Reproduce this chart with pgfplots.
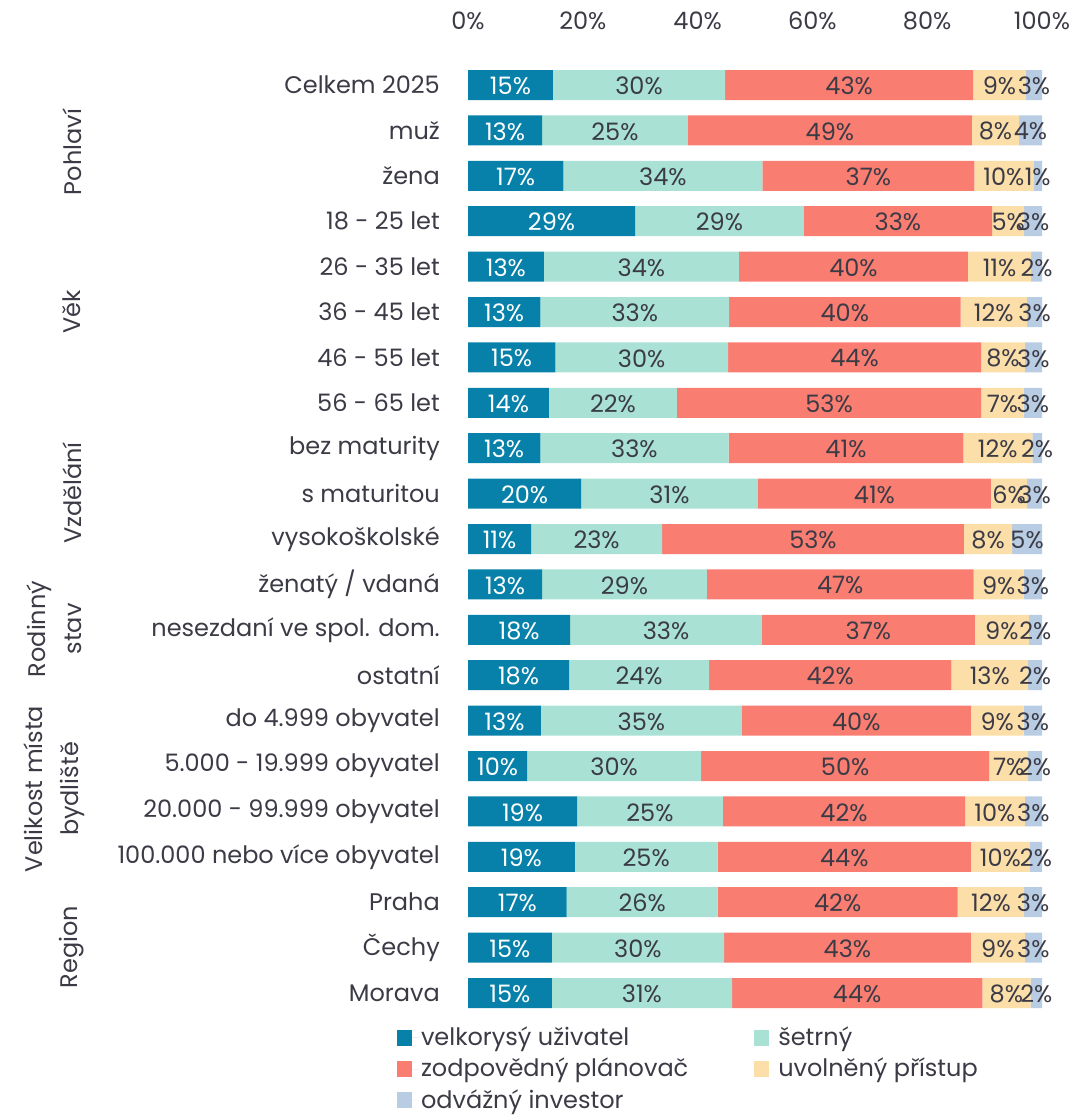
\documentclass[border=0pt]{standalone}
\usepackage{fontspec}
\setmainfont{Poppins}
\usepackage{pgfplots}
\usepackage{pgfplotstable}
\pgfplotsset{compat=1.18}
\definecolor{cA}{HTML}{0781A9}
\definecolor{cB}{HTML}{A9E2D4}
\definecolor{cC}{HTML}{FA7D71}
\definecolor{cD}{HTML}{FCDEA9}
\definecolor{cE}{HTML}{B8CCE3}
\definecolor{txt}{HTML}{3B3B46}
\pgfplotstableread{
y  a    b    c    d    e   la lb lc ld le
0  14.8 30.0 43.2 9.2  2.8 15 30 43 9  3
1  12.9 25.4 49.5 8.2  4.0 13 25 49 8  4
2  16.6 34.7 36.9 10.3 1.5 17 34 37 10 1
3  29.1 29.4 32.8 5.6  3.1 29 29 33 5  3
4  13.2 34.0 39.9 11.0 1.9 13 34 40 11 2
5  12.6 32.9 40.3 11.6 2.6 13 33 40 12 3
6  15.2 30.1 44.1 7.6  3.0 15 30 44 8  3
7  14.1 22.3 53.0 7.4  3.2 14 22 53 7  3
8  12.6 32.8 40.9 12.0 1.7 13 33 41 12 2
9  19.7 30.8 40.6 6.3  2.6 20 31 41 6  3
10 11.0 22.8 52.6 8.4  5.2 11 23 53 8  5
11 12.9 28.7 46.5 8.7  3.2 13 29 47 9  3
12 17.8 33.4 37.1 9.4  2.3 18 33 37 9  2
13 17.6 24.4 42.2 13.4 2.4 18 24 42 13 2
14 12.7 35.0 39.9 9.2  3.2 13 35 40 9  3
15 10.3 30.3 50.2 6.8  2.4 10 30 50 7  2
16 19.0 25.4 42.2 10.4 3.0 19 25 42 10 3
17 18.6 24.9 44.1 10.3 2.1 19 25 44 10 2
18 17.2 26.3 41.8 11.6 3.1 17 26 42 12 3
19 14.6 30.0 43.0 9.4  3.0 15 30 43 9  3
20 14.6 31.4 43.6 8.4  2.0 15 31 44 8  2
}\data
\newcommand{\fs}{\fontsize{24pt}{28pt}\selectfont}
\pgfplotsset{base/.style={
  at={(468pt,-62.3pt)}, anchor=north west,
  scale only axis, width=574pt, height=953.4pt,
  xmin=0, xmax=100, ymin=-0.5, ymax=20.5, enlargelimits=false,
  y dir=reverse, axis line style={draw=none}, tick style={draw=none}}}
\begin{document}
\fs
\begin{tikzpicture}[x=1pt,y=1pt]
\path[use as bounding box] (0,0) rectangle (1089,-1115);
\begin{axis}[base,
  xbar stacked, bar width=30pt,
  xtick={0,20,40,60,80,100},
  xticklabels={0\%,20\%,40\%,60\%,80\%,100\%},
  xticklabel pos=upper,
  xticklabel style={font=\fs, text=txt, yshift=24pt},
  ytick={0,...,20},
  yticklabels={Celkem 2025,muž,žena,18 - 25 let,26 - 35 let,36 - 45 let,46 - 55 let,56 - 65 let,bez maturity,s maturitou,vysokoškolské,ženatý / vdaná,nesezdaní ve spol. dom.,ostatní,do 4.999 obyvatel,5.000 - 19.999 obyvatel,20.000 - 99.999 obyvatel,100.000 nebo více obyvatel,Praha,Čechy,Morava},
  yticklabel style={font=\fs, text=txt, inner sep=0pt, xshift=-28pt},
  every axis plot/.append style={draw=none},
  legend image code/.code={\fill[#1,draw=none] (0pt,-8pt) rectangle (15pt,8pt); \path (15pt,0pt) -- (22pt,0pt);},
  legend style={at={(axis description cs:-0.124,-0.009)}, anchor=north west, draw=none, fill=none,
    font=\fs, text=txt, legend columns=2, inner sep=0pt,
    /tikz/every even column/.append style={column sep=64pt}, /tikz/row sep=5pt},
  legend cell align=left,
]
\addplot[fill=cA] table[x=a,y=y]{\data};
\addplot[fill=cB] table[x=b,y=y]{\data};
\addplot[fill=cC] table[x=c,y=y]{\data};
\addplot[fill=cD] table[x=d,y=y]{\data};
\addplot[fill=cE] table[x=e,y=y]{\data};
\legend{velkorysý uživatel, šetrný, zodpovědný plánovač, uvolněný přístup, odvážný investor}
\end{axis}
\begin{axis}[base, xtick=\empty, ytick=\empty,
  nodes near coords={\pgfplotspointmeta\%},
  point meta=explicit symbolic,
  every node near coord/.append style={anchor=center, font=\fs, text=txt, inner sep=0pt, yshift=-1pt},
]
\addplot[only marks, mark=none, every node near coord/.append style={text=white}] table[x expr=\thisrow{a}/2, y=y, meta=la]{\data};
\addplot[only marks, mark=none] table[x expr=\thisrow{a}+\thisrow{b}/2, y=y, meta=lb]{\data};
\addplot[only marks, mark=none] table[x expr=\thisrow{a}+\thisrow{b}+\thisrow{c}/2, y=y, meta=lc]{\data};
\addplot[only marks, mark=none] table[x expr=\thisrow{a}+\thisrow{b}+\thisrow{c}+\thisrow{d}/2, y=y, meta=ld]{\data};
\addplot[only marks, mark=none] table[x expr=\thisrow{a}+\thisrow{b}+\thisrow{c}+\thisrow{d}+\thisrow{e}/2, y=y, meta=le]{\data};
\end{axis}
\begin{scope}[every node/.style={rotate=90, text=txt, font=\fontsize{24pt}{36pt}\selectfont, align=center, inner sep=0pt}]
\node at (72,-152) {Pohlaví};
\node at (72,-312) {Věk};
\node at (72,-493) {Vzdělání};
\node at (54,-629) {Rodinný\\stav};
\node at (54,-789) {Velikost místa\\bydliště};
\node at (72,-947) {Region};
\end{scope}
\end{tikzpicture}
\end{document}
